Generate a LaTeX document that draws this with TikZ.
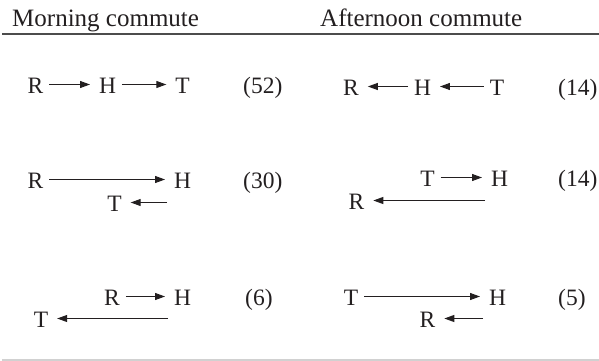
\documentclass[tikz,border=0pt]{standalone}
\usepackage{fontspec}
\setmainfont{Liberation Serif}
\usetikzlibrary{arrows.meta}
\definecolor{ink}{HTML}{231F20}
\begin{document}
\begin{tikzpicture}[x=1pt,y=-1pt,
  lbl/.style={anchor=base, inner xsep=6pt, inner ysep=0pt, outer sep=0pt,
    text height=17pt, text depth=0pt, font=\fontsize{23.5}{23.5}\selectfont, text=ink},
  num/.style={anchor=base west, inner sep=0pt, font=\fontsize{23.5}{23.5}\selectfont, text=ink},
  head/.style={anchor=base west, inner sep=0pt, font=\fontsize{25}{25}\selectfont, text=ink},
  arr/.style={-{Triangle[length=10pt,width=7pt]}, line width=1pt, draw=ink, shorten >=3pt},
  toprule/.style={line width=1.3pt, draw=black!70},
  botrule/.style={line width=1.2pt, draw=black!18}]
\useasboundingbox (0,0) rectangle (599,361);
% headers and rules
\node[head] (hm) at (12,27) {Morning commute};
\node[head] (ha) at (320,27) {Afternoon commute};
\coordinate (tl) at (2,34); \coordinate (tr) at (599,34);
\draw[toprule] (tl) -- (tr);
\coordinate (bl) at (2,360); \coordinate (br) at (599,360);
\draw[botrule] (bl) -- (br);
% row 1 left
\node[lbl] (R1) at (35.5,93) {R};
\node[lbl] (H1) at (107.5,93) {H};
\node[lbl] (T1) at (182.5,93) {T};
\draw[arr] (R1) -- (H1);
\draw[arr] (H1) -- (T1);
\node[num] (n1) at (243,93) {(52)};
% row 1 right
\node[lbl] (R1r) at (351,95) {R};
\node[lbl] (H1r) at (422.5,95) {H};
\node[lbl] (T1r) at (497,95) {T};
\draw[arr] (H1r) -- (R1r);
\draw[arr] (T1r) -- (H1r);
\node[num] (n1r) at (558,95) {(14)};
% row 2 left
\node[lbl] (R2) at (35.5,188) {R};
\node[lbl] (H2) at (182.5,188) {H};
\draw[arr] (R2) -- (H2);
\node[lbl] (T2) at (114.5,211) {T};
\coordinate (c2) at (167,202.5);
\draw[arr] (c2) -- (T2);
\node[num] (n2) at (243,188) {(30)};
% row 2 right
\node[lbl] (T2r) at (427.5,186) {T};
\node[lbl] (H2r) at (499.5,186) {H};
\draw[arr] (T2r) -- (H2r);
\node[lbl] (R2r) at (356.5,209) {R};
\coordinate (c2r) at (485,200.5);
\draw[arr] (c2r) -- (R2r);
\node[num] (n2r) at (558,186) {(14)};
% row 3 left
\node[lbl] (R3) at (112,305) {R};
\node[lbl] (H3) at (182.5,305) {H};
\draw[arr] (R3) -- (H3);
\node[lbl] (T3) at (41,327) {T};
\coordinate (c3) at (168,318.5);
\draw[arr] (c3) -- (T3);
\node[num] (n3) at (245,305) {(6)};
% row 3 right
\node[lbl] (T3r) at (351,305) {T};
\node[lbl] (H3r) at (497.5,305) {H};
\draw[arr] (T3r) -- (H3r);
\node[lbl] (R3r) at (427.5,327) {R};
\coordinate (c3r) at (483,318.5);
\draw[arr] (c3r) -- (R3r);
\node[num] (n3r) at (558,305) {(5)};
\end{tikzpicture}
\end{document}
